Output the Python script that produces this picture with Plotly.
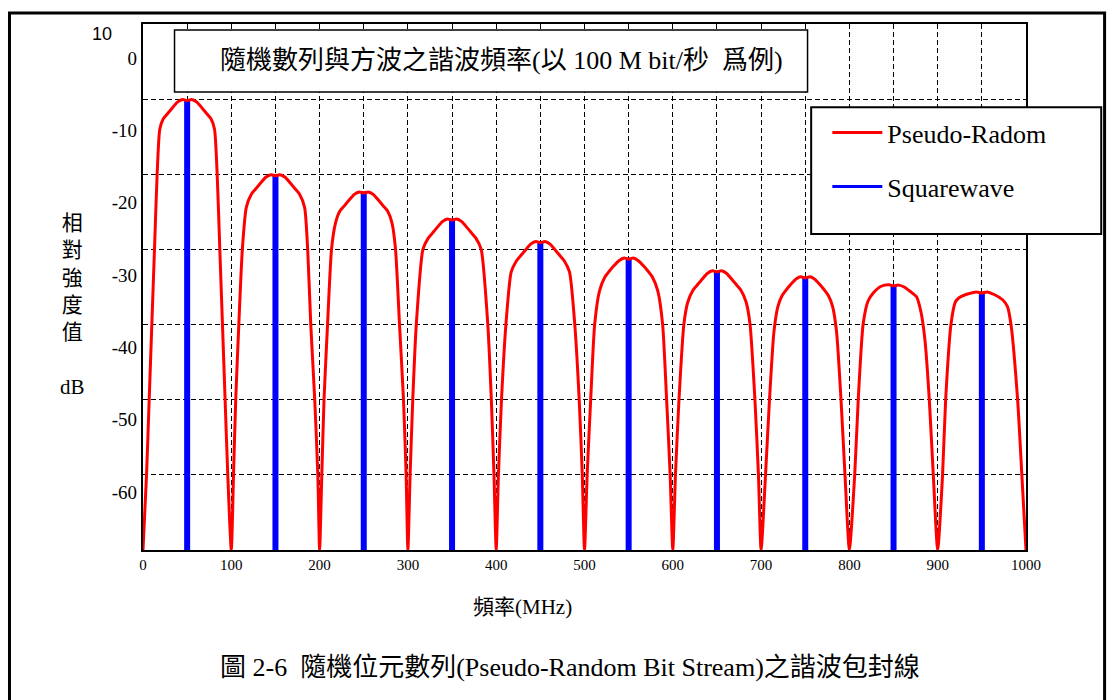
import plotly.graph_objects as go

# Pseudo-random spectrum envelope (MHz, dB)
lobe1_f = [0, 4, 7, 10, 13, 16, 19, 23, 28, 33, 39, 45, 50, 55, 61, 67, 72, 77, 81, 84, 87, 90, 93, 96]
lobe1_db = [-60, -50, -40, -30, -20, -10, -4, -2.6, -1.9, -1.2, -0.4, -0.05, -0.2, -0.05, -0.4, -1.2, -1.9, -2.6, -4, -10, -20, -30, -40, -50]
lobe2_f = [100, 102.5, 105, 108.5, 112.5, 117, 123, 128, 133, 139, 145, 150, 155, 161, 167, 172, 177, 183, 186.5, 190, 194.5, 198]
lobe2_db = [-60, -50, -40, -30, -20, -14.4, -12.6, -11.9, -11.2, -10.4, -10.05, -10.2, -10.05, -10.4, -11.2, -11.9, -12.6, -14.4, -20, -30, -40, -50]
lobe3_f = [200, 202.5, 205, 209, 213.5, 218, 223, 228, 233, 239, 245, 250, 255, 261, 267, 272, 277, 282, 286, 290.5, 295, 298]
lobe3_db = [-60, -50, -40, -30, -20, -16.5, -14.9, -14.2, -13.5, -12.7, -12.35, -12.5, -12.35, -12.7, -13.5, -14.2, -14.9, -16.5, -20, -30, -40, -50]
lobe4_f = [300, 302.5, 305.5, 309.5, 317, 323, 328, 333, 339, 345, 350, 355, 361, 367, 372, 377, 383, 390.5, 394.5, 397.5]
lobe4_db = [-60, -50, -40, -30, -20, -18.5, -17.8, -17.1, -16.3, -15.95, -16.1, -15.95, -16.3, -17.1, -17.8, -18.5, -20, -30, -40, -50]
lobe5_f = [400, 402.5, 406, 411, 417, 423, 428, 433, 439, 445, 450, 455, 461, 467, 472, 477, 483, 489, 494, 497.5]
lobe5_db = [-60, -50, -40, -30, -23, -21.5, -20.8, -20.1, -19.3, -18.95, -19.1, -18.95, -19.3, -20.1, -20.8, -21.5, -23, -30, -40, -50]
lobe6_f = [500, 503, 507, 511.5, 517, 523, 528, 533, 539, 545, 550, 555, 561, 567, 572, 577, 583, 588.5, 593, 597]
lobe6_db = [-60, -50, -40, -30, -25.5, -23.7, -22.9, -22.2, -21.5, -21.15, -21.3, -21.15, -21.5, -22.2, -22.9, -23.7, -25.5, -30, -40, -50]
lobe7_f = [600, 603, 607, 612.5, 617, 623, 628, 633, 639, 645, 650, 655, 661, 667, 672, 677, 683, 687.5, 693, 697]
lobe7_db = [-60, -50, -40, -30, -27, -25.4, -24.7, -24, -23.2, -22.85, -23, -22.85, -23.2, -24, -24.7, -25.4, -27, -30, -40, -50]
lobe8_f = [700, 705, 709.5, 714.5, 719, 724, 729, 734, 740, 745, 750, 755, 760, 766, 771, 776, 781, 785.5, 790.5, 795]
lobe8_db = [-60, -50, -40, -31, -27.6, -26.1, -25.3, -24.6, -23.9, -23.65, -23.8, -23.65, -23.9, -24.6, -25.3, -26.1, -27.6, -31, -40, -50]
lobe9_f = [800, 806, 810, 815.5, 821, 827, 836, 845, 850, 856, 862, 869, 876, 881, 885.5, 890.5, 895]
lobe9_db = [-60, -50, -40, -30, -26.9, -25.8, -24.9, -24.7, -24.85, -24.75, -25, -25.6, -26.3, -28.3, -32, -40, -50]
lobe10_f = [900, 905.5, 909, 915, 920, 924.5, 932, 944, 950, 956, 964, 973.5, 979, 983, 990.5, 995.3, 1000]
lobe10_db = [-60, -50, -40, -30, -27, -26.4, -26, -25.65, -25.8, -25.65, -26, -26.7, -27.6, -30, -40, -50, -60]

# Square wave harmonics (odd harmonics of 50 MHz)
harmonic_f = [50, 150, 250, 350, 450, 550, 650, 750, 850, 950]
harmonic_db = [0, -10, -12.3, -15.9, -18.9, -21.1, -22.8, -23.7, -24.9, -25.7]

x_tick_vals = [0, 50, 100, 150, 200, 250, 300, 350, 400, 450, 500, 550, 600, 650, 700, 750, 800, 850, 900, 950, 1000]
x_tick_text = ["0", "", "100", "", "200", "", "300", "", "400", "", "500", "", "600", "", "700", "", "800", "", "900", "", "1000"]
y_grid_vals = [0, -10, -20, -30, -40, -50]
y_label_vals = [0, -10, -20, -30, -40, -50, -60]
y_label_text = ["0", "-10", "-20", "-30", "-40", "-50", "-60"]

env_f = lobe1_f + lobe2_f + lobe3_f + lobe4_f + lobe5_f + lobe6_f + lobe7_f + lobe8_f + lobe9_f + lobe10_f
env_db = lobe1_db + lobe2_db + lobe3_db + lobe4_db + lobe5_db + lobe6_db + lobe7_db + lobe8_db + lobe9_db + lobe10_db

floor_db = -60
bar_x, bar_y = [], []
for f, v in zip(harmonic_f, harmonic_db):
    bar_x += [f, f, None]
    bar_y += [floor_db, v, None]

SERIF = "Liberation Serif, Noto Sans CJK TC, serif"

fig = go.Figure()
fig.add_trace(go.Scatter(x=bar_x, y=bar_y, mode="lines", showlegend=False,
                         line=dict(color="#0000FF", width=6)))
fig.add_trace(go.Scatter(x=env_f, y=env_db, mode="lines", name="Pseudo-Radom",
                         line=dict(color="#FF0000", width=3, shape="spline", smoothing=0.6),
                         legendgroup="a", legendrank=1))
# thinner legend entry for the harmonics
fig.add_trace(go.Scatter(x=[None], y=[None], mode="lines", name="Squarewave",
                         line=dict(color="#0000FF", width=3), legendgroup="b", legendrank=2))
fig.add_trace(go.Scatter(x=[], y=[], yaxis="y2", showlegend=False))

fig.update_layout(
    width=1107, height=700,
    margin=dict(l=143, r=81, t=24, b=150),
    paper_bgcolor="white", plot_bgcolor="white",
    font=dict(family=SERIF, color="black"),
    xaxis=dict(range=[0, 1000], tickvals=x_tick_vals, ticktext=x_tick_text,
               tickfont=dict(family=SERIF, size=15), showgrid=True, gridcolor="black", gridwidth=1.3,
               griddash="5px,3px", zeroline=False, showline=True, linecolor="black",
               linewidth=2, mirror=True, ticks="", automargin=False),
    yaxis=dict(range=[-60, 10], tickvals=y_grid_vals, showticklabels=False,
               showgrid=True, gridcolor="black", gridwidth=1.3, griddash="5px,3px",
               zeroline=False, showline=True, linecolor="black", linewidth=2, mirror=True,
               automargin=False),
    yaxis2=dict(overlaying="y", side="left", range=[-68.0, 4.7], tickvals=y_label_vals,
                ticktext=y_label_text, tickfont=dict(family=SERIF, size=19), showgrid=False,
                zeroline=False, showline=False, ticks="", ticklabelstandoff=5, automargin=False),
    legend=dict(x=0.775, xanchor="left", y=0.838, yanchor="top", bgcolor="rgba(0,0,0,0)",
                borderwidth=0, font=dict(family=SERIF, size=26), tracegroupgap=17, itemwidth=50),
    showlegend=True,
)

# frame, title box, legend box
fig.add_shape(type="rect", xref="paper", yref="paper", x0=-0.1512, x1=1.089, y0=-0.30, y1=1.021,
              line=dict(color="black", width=3), layer="below")
fig.add_shape(type="rect", xref="paper", yref="paper", x0=0.0357, x1=0.7526, y0=0.8707, y1=0.9886,
              line=dict(color="black", width=1.5), fillcolor="white", layer="above")
fig.add_shape(type="rect", xref="paper", yref="paper", x0=0.7567, x1=1.0852, y0=0.6008, y1=0.8416,
              line=dict(color="black", width=2), fillcolor="white", layer="above")

fig.add_annotation(text="隨機數列與方波之諧波頻率(以 100 M bit/秒  爲例)", xref="paper", yref="paper",
                   x=0.4055, y=0.9297, xanchor="center", yanchor="middle", showarrow=False,
                   font=dict(size=26))
fig.add_annotation(text="10", xref="paper", yref="paper", x=-0.0459, y=0.981, xanchor="center",
                   yanchor="middle", showarrow=False,
                   font=dict(family="Liberation Sans, Arial, sans-serif", size=18))
fig.add_annotation(text="相<br>對<br>強<br>度<br>值<br><br>dB", xref="paper", yref="paper",
                   x=-0.0793, y=0.465, xanchor="center", yanchor="middle", showarrow=False,
                   font=dict(size=21))
fig.add_annotation(text="頻率(MHz)", xref="paper", yref="paper", x=0.430, y=-0.108,
                   xanchor="center", yanchor="middle", showarrow=False, font=dict(size=21))
fig.add_annotation(text="圖 2-6  隨機位元數列(Pseudo-Random Bit Stream)之諧波包封線", xref="paper",
                   yref="paper", x=0.484, y=-0.224, xanchor="center", yanchor="middle",
                   showarrow=False, font=dict(size=26))

fig.write_html("out.html", config={"displayModeBar": False},
               post_script="document.body.style.margin='0px';")
